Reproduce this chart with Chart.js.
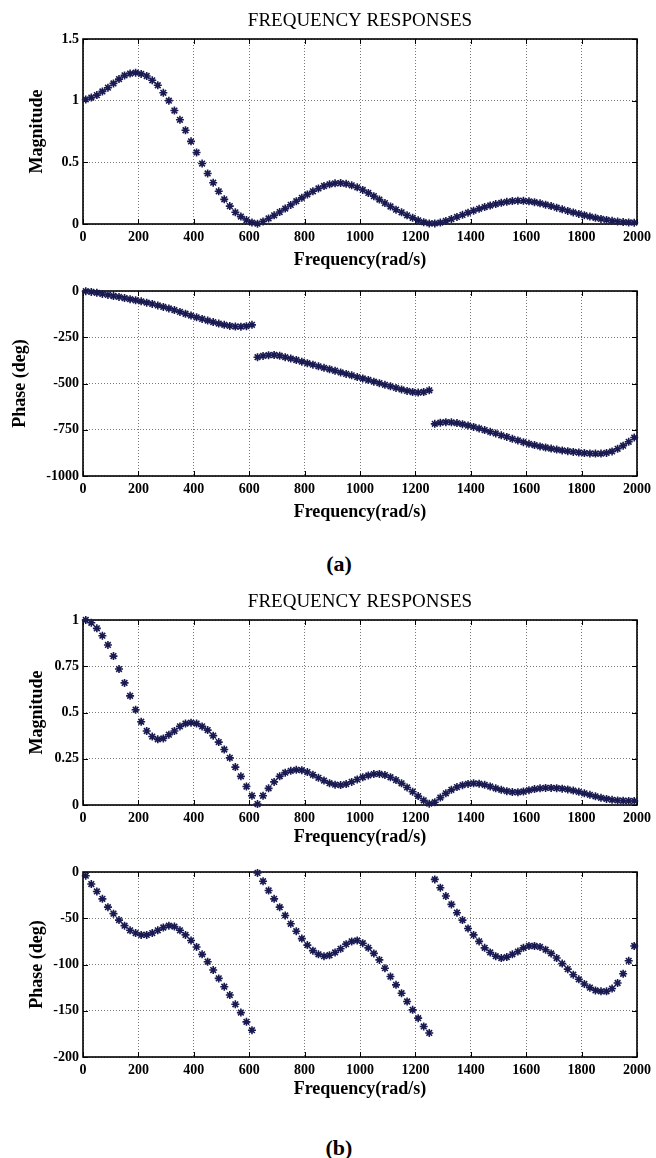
<!DOCTYPE html>
<html><head><meta charset="utf-8">
<script src="https://cdn.jsdelivr.net/npm/chart.js@4.4.0/dist/chart.umd.min.js"></script>
<style>
html,body{margin:0;padding:0;background:#fff;}
#wrap{position:relative;width:656px;height:1158px;overflow:hidden;background:#fff;}
canvas{position:absolute;left:0;}
.cap{position:absolute;left:0;width:678px;text-align:center;font:bold 22px "Liberation Serif","Times New Roman",serif;line-height:24px;color:#000;}
</style></head><body>
<div id="wrap">
<canvas id="c1" width="656" height="274" style="top:0px"></canvas>
<canvas id="c2" width="656" height="274" style="top:252px"></canvas>
<canvas id="c3" width="656" height="274" style="top:581px"></canvas>
<canvas id="c4" width="656" height="274" style="top:833px"></canvas>
<div class="cap" style="top:552px">(a)</div>
<div class="cap" style="top:1136px">(b)</div>
</div>
<script>
const freq = [10,30,50,70,90,110,130,150,170,190,210,230,250,270,290,310,330,350,370,390,410,430,450,470,490,510,530,550,570,590,610,
630,650,670,690,710,730,750,770,790,810,830,850,870,890,910,930,950,970,990,1010,1030,1050,1070,1090,1110,1130,1150,1170,1190,1210,1230,1250,
1270,1290,1310,1330,1350,1370,1390,1410,1430,1450,1470,1490,1510,1530,1550,1570,1590,1610,1630,1650,1670,1690,1710,1730,1750,1770,1790,1810,1830,1850,1870,1890,1910,1930,1950,1970,1990];

const magA = [1.01,1.025,1.045,1.075,1.105,1.14,1.175,1.205,1.22,1.227,1.217,1.2,1.165,1.125,1.064,1.0,0.92,0.845,0.76,0.67,0.58,0.49,0.41,0.335,0.265,0.2,0.145,0.095,0.06,0.032,0.012,
0.003,0.02,0.045,0.07,0.097,0.125,0.155,0.185,0.212,0.24,0.265,0.288,0.308,0.322,0.33,0.332,0.326,0.314,0.297,0.276,0.252,0.226,0.198,0.17,0.142,0.116,0.095,0.07,0.05,0.03,0.015,0.005,
0.005,0.012,0.025,0.04,0.057,0.074,0.092,0.108,0.123,0.137,0.15,0.162,0.172,0.18,0.186,0.189,0.188,0.184,0.177,0.168,0.157,0.145,0.132,0.119,0.106,0.094,0.082,0.071,0.06,0.05,0.041,0.033,0.026,0.02,0.016,0.013,0.011];

const phaseA = [-1,-5,-10,-16,-21,-27,-32,-38,-44,-50,-56,-63,-70,-78,-86,-94,-103,-113,-123,-133,-142,-151,-160,-168,-176,-183,-189,-192,-193,-190,-183,
-358,-351,-347,-346,-350,-358,-365,-373,-382,-390,-398,-407,-415,-423,-431,-440,-448,-456,-465,-473,-481,-490,-498,-507,-515,-524,-532,-540,-546,-549,-546,-537,
-718,-712,-709,-710,-714,-720,-727,-735,-743,-752,-761,-770,-780,-789,-799,-808,-817,-826,-833,-840,-846,-852,-857,-862,-866,-870,-873,-876,-878,-879,-879,-875,-867,-853,-836,-815,-792];

const magB = [1.0,0.985,0.955,0.915,0.865,0.805,0.735,0.66,0.59,0.515,0.45,0.4,0.37,0.355,0.36,0.38,0.4,0.425,0.44,0.445,0.44,0.425,0.405,0.375,0.34,0.3,0.255,0.205,0.155,0.1,0.05,
0.005,0.05,0.09,0.125,0.155,0.175,0.185,0.19,0.188,0.178,0.163,0.147,0.132,0.118,0.11,0.108,0.113,0.125,0.138,0.15,0.16,0.167,0.168,0.162,0.15,0.135,0.117,0.095,0.072,0.048,0.025,0.007,
0.015,0.04,0.063,0.082,0.097,0.107,0.114,0.117,0.115,0.109,0.1,0.09,0.082,0.075,0.07,0.069,0.073,0.08,0.086,0.09,0.092,0.092,0.091,0.088,0.084,0.078,0.071,0.063,0.055,0.047,0.039,0.033,0.028,0.025,0.023,0.022,0.022];

const phaseB = [-4,-13,-21,-29,-38,-45,-52,-58,-63,-66,-68,-68,-66,-63,-60,-58,-59,-63,-68,-74,-81,-89,-97,-106,-115,-124,-133,-143,-152,-162,-171,
-1,-10,-20,-29,-38,-47,-56,-64,-72,-79,-85,-89,-91,-90,-87,-83,-78,-75,-74,-77,-82,-88,-95,-104,-113,-122,-131,-140,-149,-158,-167,-174,
-8,-17,-26,-35,-44,-52,-61,-68,-75,-82,-87,-91,-93,-92,-89,-86,-82,-80,-80,-81,-84,-88,-93,-99,-105,-111,-116,-121,-125,-128,-129,-129,-126,-120,-110,-96,-80];

const xTicks = [0,200,400,600,800,1000,1200,1400,1600,1800,2000];
const yTicksMagA = [0,0.5,1,1.5];
const yTicksPhaseA = [-1000,-750,-500,-250,0];
const yTicksMagB = [0,0.25,0.5,0.75,1];
const yTicksPhaseB = [-200,-150,-100,-50,0];

const FONT = '"Liberation Serif","Times New Roman",serif';
const MARK = '#1a1a52';
const GRID = '#7a7a7a';

const framePlugin = {
  id: 'frame',
  beforeDatasetsDraw(chart) {
    const {ctx, chartArea: a, scales: {x, y}} = chart;
    ctx.save();
    ctx.setLineDash([]);
    ctx.strokeStyle = '#000';
    ctx.lineWidth = 1;
    ctx.beginPath();
    x.ticks.forEach(t => {
      const px = Math.round(x.getPixelForValue(t.value)) + 0.5;
      ctx.moveTo(px, a.bottom); ctx.lineTo(px, a.bottom - 5);
      ctx.moveTo(px, a.top); ctx.lineTo(px, a.top + 5);
    });
    y.ticks.forEach(t => {
      const py = Math.round(y.getPixelForValue(t.value)) + 0.5;
      ctx.moveTo(a.left, py); ctx.lineTo(a.left + 5, py);
      ctx.moveTo(a.right, py); ctx.lineTo(a.right - 5, py);
    });
    ctx.stroke();
    ctx.lineWidth = 1.6;
    ctx.strokeRect(a.left, a.top, a.right - a.left, a.bottom - a.top);
    ctx.restore();
  }
};

function makeChart(id, yData, yTicks, yTitle, yTitlePad, withTitle, xTitlePad) {
  const pts = freq.map((f, i) => ({x: f, y: yData[i]}));
  return new Chart(document.getElementById(id), {
    type: 'scatter',
    data: {datasets: [{
      data: pts, showLine: false, pointStyle: 'star', pointRadius: 4, pointHoverRadius: 4,
      pointBorderWidth: 1.6, borderColor: MARK, backgroundColor: MARK, clip: false
    }]},
    options: {
      responsive: false, animation: false, devicePixelRatio: 1,
      layout: {padding: {left: 0, right: 17.5, top: withTitle ? 0 : 39, bottom: 0}},
      plugins: {
        legend: {display: false}, tooltip: {enabled: false},
        title: {display: withTitle, text: 'FREQUENCY RESPONSES', fullSize: false, color: '#000',
          font: {family: FONT, size: 19, weight: 'normal'}, padding: {top: 10.1, bottom: 6.1}}
      },
      scales: {
        x: {
          type: 'linear', min: 0, max: 2000,
          afterBuildTicks: s => { s.ticks = xTicks.map(v => ({value: v})); },
          afterFit: s => { s.height = 50; },
          grid: {color: GRID, drawTicks: false, lineWidth: 1},
          border: {display: false, dash: [1, 2]},
          ticks: {padding: 5, color: '#000', autoSkip: false, maxRotation: 0,
            font: {family: FONT, size: 14, weight: 'bold'}, callback: v => String(v)},
          title: {display: true, text: 'Frequency(rad/s)', color: '#000',
            font: {family: FONT, size: 18, weight: 'bold'}, padding: {top: 0, bottom: xTitlePad}}
        },
        y: {
          type: 'linear', min: yTicks[0], max: yTicks[yTicks.length - 1],
          afterBuildTicks: s => { s.ticks = yTicks.map(v => ({value: v})); },
          afterFit: s => { s.width = 83; },
          grid: {color: GRID, drawTicks: false, lineWidth: 1},
          border: {display: false, dash: [1, 2]},
          ticks: {padding: 4, color: '#000', autoSkip: false,
            font: {family: FONT, size: 14, weight: 'bold'}, callback: v => String(v)},
          title: {display: true, text: yTitle, color: '#000',
            font: {family: FONT, size: 18, weight: 'bold'}, padding: {top: yTitlePad, bottom: 0}}
        }
      }
    },
    plugins: [framePlugin]
  });
}

makeChart('c1', magA, yTicksMagA, 'Magnitude', 26.7, true, 3.2);
makeChart('c2', phaseA, yTicksPhaseA, 'Phase (deg)', 9.7, false, 3.2);
makeChart('c3', magB, yTicksMagB, 'Magnitude', 26.7, true, 6.7);
makeChart('c4', phaseB, yTicksPhaseB, 'Phase (deg)', 26.7, false, 6.7);
</script>
</body></html>
